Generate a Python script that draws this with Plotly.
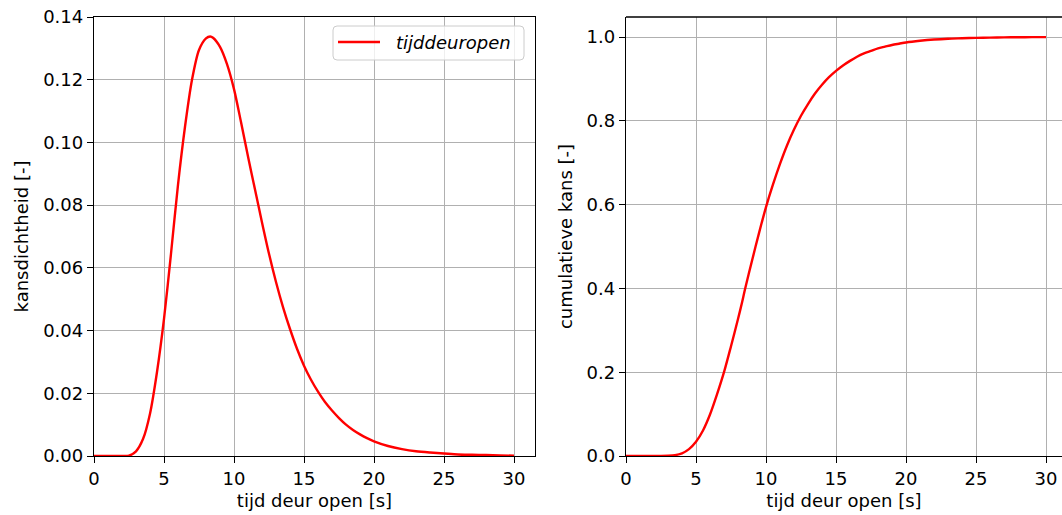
import plotly.graph_objects as go

# time axis [s]
t = [0, 1, 2, 2.5, 3, 3.5, 4, 4.5, 5, 5.5, 6, 6.5, 7, 7.5, 8, 8.3, 8.5, 9, 9.5,
     10, 10.5, 11, 11.5, 12, 12.5, 13, 13.5, 14, 14.5, 15, 15.5, 16, 16.5, 17,
     17.5, 18, 18.5, 19, 19.5, 20, 21, 22, 23, 24, 25, 26, 27, 28, 29, 30]

# probability density
pdf = [0, 0, 0, 0.0001, 0.0015, 0.0054, 0.0135, 0.0268, 0.0437, 0.0645, 0.0865,
       0.1050, 0.1200, 0.1295, 0.1332, 0.1338, 0.1334, 0.1305, 0.1250,
       0.1170, 0.1065, 0.0955, 0.0850, 0.0745, 0.0645, 0.0555, 0.0475, 0.0405,
       0.0342, 0.0288, 0.0243, 0.0205, 0.0172, 0.0145, 0.0121, 0.0100, 0.0083,
       0.0069, 0.0057, 0.0047, 0.0032, 0.0022, 0.0015, 0.0011, 0.0008, 0.0005,
       0.0004, 0.0003, 0.0002, 0.0001]

# cumulative probability
cdf = [0, 0, 0, 0, 0.0005, 0.002, 0.0065, 0.0165, 0.034, 0.061, 0.099, 0.147,
       0.200, 0.262, 0.327, 0.368, 0.398, 0.466, 0.532, 0.594, 0.648, 0.697,
       0.741, 0.779, 0.812, 0.840, 0.865, 0.886, 0.904, 0.919, 0.932, 0.943,
       0.953, 0.961, 0.967, 0.973, 0.977, 0.981, 0.984, 0.987, 0.991, 0.994,
       0.996, 0.997, 0.998, 0.9986, 0.9991, 0.9994, 0.9996, 0.9997]

series_name = "tijddeuropen"
x_title = "tijd deur open [s]"
y1_title = "kansdichtheid [-]"
y2_title = "cumulatieve kans [-]"
x_ticks = [0, 5, 10, 15, 20, 25, 30]
y1_ticks = [0.00, 0.02, 0.04, 0.06, 0.08, 0.10, 0.12, 0.14]
y2_ticks = [0.0, 0.2, 0.4, 0.6, 0.8, 1.0]

FONT = "DejaVu Sans"
FS = 18
RED = "#ff0000"
GRID = "#b0b0b0"

fig = go.Figure()
fig.add_trace(go.Scatter(x=t, y=pdf, mode="lines", name=series_name,
                         line=dict(color=RED, width=2.4, shape="spline", smoothing=0.8),
                         xaxis="x", yaxis="y", showlegend=False))
fig.add_trace(go.Scatter(x=t, y=cdf, mode="lines", name=series_name,
                         line=dict(color=RED, width=2.4, shape="spline", smoothing=0.8),
                         xaxis="x2", yaxis="y2", showlegend=False))

W, H = 1062, 515
L, R, T, B = 94, 0, 17, 59
pw = W - L - R
ph = H - T - B
d1 = [0, (535 - 94) / pw]
d2 = [(626 - 94) / pw, 1]


def px(x):
    return (x - L) / pw


def py(y):
    return (H - B - y) / ph


axis_common = dict(
    showgrid=True, gridcolor=GRID, gridwidth=1.3,
    showline=True, linecolor="black", linewidth=1.3,
    ticks="outside", ticklen=6, tickwidth=1.3, tickcolor="black",
    zeroline=False, tickfont=dict(family=FONT, size=FS, color="black"),
)

fig.update_layout(
    width=W, height=H,
    margin=dict(l=L, r=R, t=T, b=B, autoexpand=False),
    paper_bgcolor="white", plot_bgcolor="white",
    font=dict(family=FONT, size=FS, color="black"),
    xaxis=dict(domain=d1, range=[0, 31.5], tickvals=x_ticks, mirror=True,
               title=dict(text=x_title, standoff=6, font=dict(family=FONT, size=FS)),
               anchor="y", **axis_common),
    yaxis=dict(domain=[0, 1], range=[0, 0.14], tickvals=y1_ticks,
               tickformat=".2f", mirror=True,
               title=dict(text=y1_title, standoff=9, font=dict(family=FONT, size=FS)),
               anchor="x", **axis_common),
    xaxis2=dict(domain=d2, range=[0, (W - 626) / 14], tickvals=x_ticks,
                title=dict(text=x_title, standoff=6, font=dict(family=FONT, size=FS)),
                anchor="y2", **axis_common),
    yaxis2=dict(domain=[0, 1], range=[0, 439 / 419], tickvals=y2_ticks,
                tickformat=".1f",
                title=dict(text=y2_title, standoff=9, font=dict(family=FONT, size=FS)),
                anchor="x2", **axis_common),
    showlegend=False,
)

# top spine of the right panel (no right spine visible)
fig.add_shape(type="line", xref="x2 domain", yref="y2 domain", x0=0, x1=1, y0=1, y1=1,
              line=dict(color="black", width=1.3))

# legend box (matplotlib-style, rounded corners)
bx0, bx1, by0, by1, r = 333, 524, 26, 60, 4
path = (f"M {px(bx0 + r)},{py(by0)} L {px(bx1 - r)},{py(by0)} "
        f"Q {px(bx1)},{py(by0)} {px(bx1)},{py(by0 + r)} "
        f"L {px(bx1)},{py(by1 - r)} Q {px(bx1)},{py(by1)} {px(bx1 - r)},{py(by1)} "
        f"L {px(bx0 + r)},{py(by1)} Q {px(bx0)},{py(by1)} {px(bx0)},{py(by1 - r)} "
        f"L {px(bx0)},{py(by0 + r)} Q {px(bx0)},{py(by0)} {px(bx0 + r)},{py(by0)} Z")
fig.add_shape(type="path", path=path, xref="paper", yref="paper",
              fillcolor="rgba(255,255,255,0.8)", line=dict(color="#cccccc", width=1))
fig.add_shape(type="line", xref="paper", yref="paper",
              x0=px(338), x1=px(380), y0=py(42), y1=py(42),
              line=dict(color=RED, width=2.4))
fig.add_annotation(text="<i>" + series_name + "</i>", xref="paper", yref="paper",
                   x=px(394), y=py(42), xanchor="left", yanchor="middle",
                   showarrow=False, font=dict(family=FONT, size=FS, color="black"))

fig.write_html("out.html", config={"displayModeBar": False},
               post_script="document.body.style.margin='0';")
